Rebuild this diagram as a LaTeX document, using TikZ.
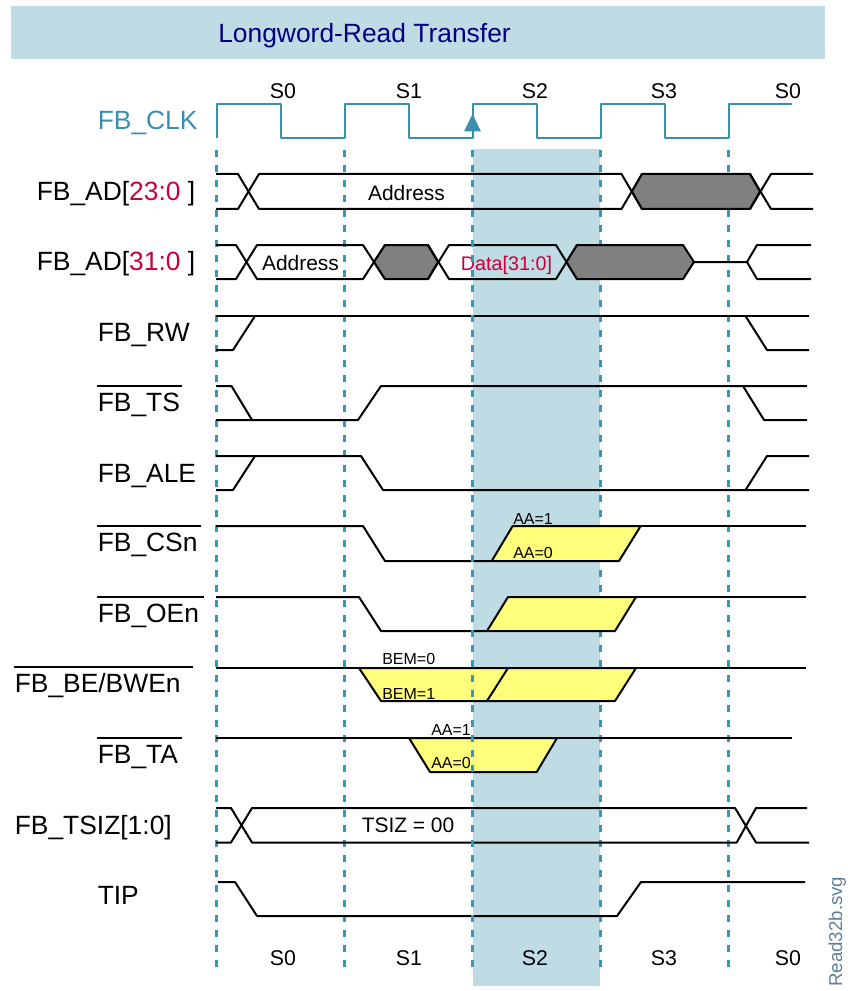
\documentclass[tikz,border=0pt]{standalone}
\usepackage{fontspec}
\setmainfont{Liberation Sans}
\definecolor{bandblue}{HTML}{BFDCE4}
\definecolor{clkblue}{HTML}{3A8FAE}
\definecolor{edgeblue}{HTML}{3A96B8}
\definecolor{addrred}{HTML}{C8003C}
\definecolor{waitgold}{HTML}{FFFF7C}
\definecolor{svgname}{HTML}{5F7F98}
\definecolor{titlenavy}{HTML}{000080}
\tikzset{
  signame/.style={anchor=base west, inner sep=0pt, font=\fontsize{19.8pt}{22pt}\selectfont},
  statename/.style={anchor=base, inner sep=0pt, font=\fontsize{16pt}{18pt}\selectfont},
  smallname/.style={anchor=base west, inner sep=0pt, font=\fontsize{12pt}{14pt}\selectfont},
  busname/.style={anchor=base, inner sep=0pt, font=\fontsize{15.7pt}{18pt}\selectfont},
  sig/.style={line width=1.5pt, line join=round},
  edgeline/.style={draw=edgeblue, line width=1.6pt, dash pattern=on 5.5pt off 5.75pt},
  grey/.style={fill=gray, draw=black, sig},
  wait/.style={fill=waitgold, draw=black, sig}
}
\begin{document}
\begin{tikzpicture}[x=0.75pt, y=-0.75pt]
  \useasboundingbox (0,0) rectangle (848,991);
  \fill[bandblue] (11,6) rectangle (825,59);
  \fill[bandblue] (473,149) rectangle (600,986);
  \node[signame, text=titlenavy] (title) at (218,42.5) {Longword-Read Transfer};

  \foreach \x in {216.5,344.5,600.5,728.5} \draw[edgeline] (\x,150) -- (\x,973);

  \draw[sig, clkblue] (216.5,138) -- (216.5,104) -- (280.5,104) -- (280.5,138) -- (344.5,138) -- (344.5,104) -- (408.5,104) -- (408.5,138) -- (472.5,138) -- (472.5,104) -- (536.5,104) -- (536.5,138) -- (600.5,138) -- (600.5,104) -- (664.5,104) -- (664.5,138) -- (728.5,138) -- (728.5,104) -- (792,104);
  \fill[clkblue] (472.5,114) -- (481,131.5) -- (464,131.5) -- cycle;
  \foreach \x/\s/\n in {283/S0/a,409/S1/b,535/S2/c,664/S3/d,788/S0/e} {
    \node[statename] (top\n) at (\x,98.3) {\s};
    \node[statename] (bot\n) at (\x,965.7) {\s};
  }

  \node[signame, text=clkblue] (clk) at (97.5,130) {FB\_CLK};
  \node[signame] (ad) at (36.5,200) {FB\_AD[\textcolor{addrred}{23:0} ]};
  \node[signame] (data) at (36.5,270.5) {FB\_AD[\textcolor{addrred}{31:0} ]};
  \node[signame] (rw) at (97.5,341) {FB\_RW};
  \node[signame] (ts) at (97.5,411) {FB\_TS};
  \node[signame] (ale) at (97.5,482) {FB\_ALE};
  \node[signame] (cs) at (97.5,551.7) {FB\_CSn};
  \node[signame] (oe) at (97.5,622.7) {FB\_OEn};
  \node[signame] (be) at (14.5,692.7) {FB\_BE/BWEn};
  \node[signame] (ta) at (97.5,763) {FB\_TA};
  \node[signame] (tsiz) at (14.5,834) {FB\_TSIZ[1:0]};
  \node[signame] (tip) at (97.5,904) {TIP};
  \draw[sig] (97,386) -- (182,386);
  \draw[sig] (97,526) -- (201,526);
  \draw[sig] (97,597) -- (204,597);
  \draw[sig] (14,667) -- (193,667);
  \draw[sig] (97,738) -- (182,738);

  \draw[sig] (216,174) -- (238,174) -- (259,209) -- (621.5,209) -- (642,174);
  \draw[sig] (216,209) -- (238,209) -- (259,174) -- (621.5,174) -- (642,209);
  \draw[grey] (632,191.5) -- (642,174) -- (750,174) -- (760,191.5) -- (750,209) -- (642,209) -- cycle;
  \draw[sig] (750,209) -- (771,174) -- (813,174);
  \draw[sig] (750,174) -- (771,209) -- (813,209);
  \node[busname] (addr) at (406.5,200) {Address};

  \draw[sig] (216,245) -- (236,245) -- (257,279) -- (363,279) -- (385,245);
  \draw[sig] (216,279) -- (236,279) -- (257,245) -- (363,245) -- (385,279);
  \draw[grey] (374,262) -- (385,245) -- (428,245) -- (438,262) -- (428,279) -- (385,279) -- cycle;
  \draw[sig] (428,279) -- (449,245) -- (556,245) -- (577,279);
  \draw[sig] (428,245) -- (449,279) -- (556,279) -- (577,245);
  \draw[grey] (566.5,262) -- (577,245) -- (683,245) -- (694,262) -- (683,279) -- (577,279) -- cycle;
  \draw[sig] (694,262) -- (747,262) -- (757,245) -- (811,245);
  \draw[sig] (747,262) -- (757,279) -- (811,279);
  \node[busname] (addrb) at (300.5,270) {Address};
  \node[busname, text=addrred, font=\fontsize{14.8pt}{17pt}\selectfont] (rdata) at (506.5,270) {Data[31:0]};

  \draw[sig] (216,350) -- (233,350) -- (255,316);
  \draw[sig] (216,316) -- (809,316);
  \draw[sig] (745.5,316) -- (767,350) -- (809,350);

  \draw[sig] (216,386) -- (231.5,386) -- (252,420);
  \draw[sig] (216,420) -- (358,420) -- (381,386) -- (807,386);
  \draw[sig] (743,386) -- (764,420) -- (807,420);

  \draw[sig] (216,490) -- (233,490) -- (255,456);
  \draw[sig] (216,456) -- (361,456) -- (383,490) -- (809,490);
  \draw[sig] (745.5,490) -- (767,456) -- (809,456);

  \draw[wait] (491.7,561) -- (512.7,526) -- (640.7,526) -- (619,561) -- cycle;
  \draw[sig] (216,526) -- (363,526) -- (385,561) -- (491.7,561);
  \draw[sig] (640.7,526) -- (806,526);
  \node[smallname] (csone) at (513,524) {AA=1};
  \node[smallname] (cszero) at (513,558) {AA=0};

  \draw[wait] (487,631) -- (508,597) -- (636,597) -- (615,631) -- cycle;
  \draw[sig] (216,597) -- (359,597) -- (381,631) -- (487,631);
  \draw[sig] (636,597) -- (806,597);

  \draw[wait] (359,668) -- (381,701) -- (487,701) -- (510,668) -- cycle;
  \draw[wait] (508,668) -- (487,701) -- (615,701) -- (636,668) -- cycle;
  \draw[sig] (216,668) -- (806,668);
  \node[smallname] (beone) at (382,664) {BEM=0};
  \node[smallname] (bezero) at (382,699) {BEM=1};

  \draw[wait] (409,738) -- (430,772) -- (536.7,772) -- (557,738) -- cycle;
  \draw[sig] (216,738) -- (792,738);
  \node[smallname] (taone) at (431,735.7) {AA=1};
  \node[smallname] (tazero) at (431,768) {AA=0};

  \draw[sig] (216,808) -- (231,808) -- (252,842.5) -- (736.7,842.5) -- (756,808) -- (807,808);
  \draw[sig] (216,842.5) -- (231,842.5) -- (252,808) -- (735,808) -- (756,842.5) -- (809,842.5);
  \node[busname] (size) at (408,832) {TSIZ = 00};

  \draw[sig] (218,882) -- (235,882) -- (257,916) -- (617,916) -- (641,882) -- (805,882);

  \draw[edgeline] (472.5,150) -- (472.5,973);
  \node[anchor=base west, inner sep=0pt, rotate=90, text=svgname, font=\fontsize{14pt}{16pt}\selectfont] (svg) at (842,987) {Read32b.svg};
\end{tikzpicture}
\end{document}
